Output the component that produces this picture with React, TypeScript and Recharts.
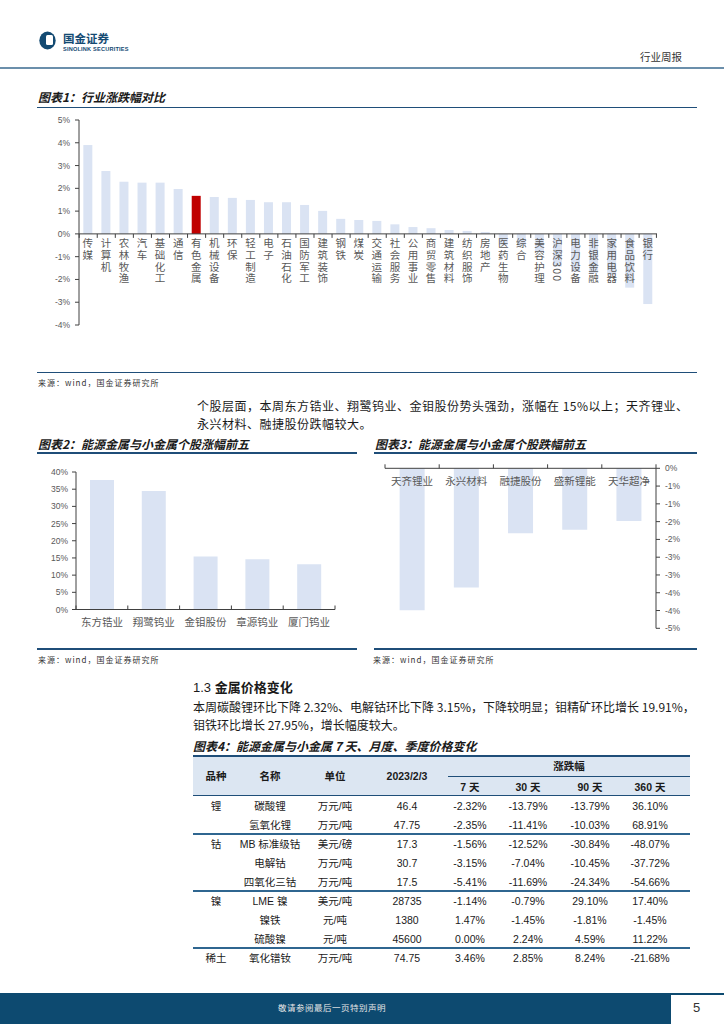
import React from 'react';
import { BarChart, Bar, XAxis, YAxis, ReferenceLine } from 'recharts';

// ---------- Data ----------
const industryNames = ['传媒', '计算机', '农林牧渔', '汽车', '基础化工', '通信', '有色金属', '机械设备', '环保', '轻工制造', '电子', '石油石化', '国防军工', '建筑装饰', '钢铁', '煤炭', '交通运输', '社会服务', '公用事业', '商贸零售', '建筑材料', '纺织服饰', '房地产', '医药生物', '综合', '美容护理', '沪深300', '电力设备', '非银金融', '家用电器', '食品饮料', '银行'];
const industryChanges = [3.9, 2.76, 2.29, 2.25, 2.25, 1.97, 1.67, 1.62, 1.58, 1.49, 1.39, 1.39, 1.27, 1.01, 0.66, 0.61, 0.57, 0.42, 0.3, 0.25, 0.17, 0.13, 0.08, -0.48, -0.52, -0.77, -1.43, -1.65, -1.72, -1.8, -2.36, -3.08];
const highlightIndustry = '有色金属';
const industryTicks = [-4, -3, -2, -1, 0, 1, 2, 3, 4, 5];

const gainerNames = ['东方锆业', '翔鹭钨业', '金钼股份', '章源钨业', '厦门钨业'];
const gainerChanges = [37.7, 34.5, 15.4, 14.6, 13.2];
const gainerTicks = [0, 5, 10, 15, 20, 25, 30, 35, 40];

const loserNames = ['天齐锂业', '永兴材料', '融捷股份', '盛新锂能', '天华超净'];
const loserChanges = [-3.99, -3.35, -1.83, -1.73, -1.48];
const loserTicks = [0, -0.5, -1, -1.5, -2, -2.5, -3, -3.5, -4, -4.5];

const tableGroups = ['锂', '', '钴', '', '', '镍', '', '', '稀土'];
const tableNames = ['碳酸锂', '氢氧化锂', 'MB 标准级钴', '电解钴', '四氧化三钴', 'LME 镍', '镍铁', '硫酸镍', '氧化镨钕'];
const tableUnits = ['万元/吨', '万元/吨', '美元/磅', '万元/吨', '万元/吨', '美元/吨', '元/吨', '元/吨', '万元/吨'];
const tablePrices = ['46.4', '47.75', '17.3', '30.7', '17.5', '28735', '1380', '45600', '74.75'];
const tableChg7 = ['-2.32%', '-2.35%', '-1.56%', '-3.15%', '-5.41%', '-1.14%', '1.47%', '0.00%', '3.46%'];
const tableChg30 = ['-13.79%', '-11.41%', '-12.52%', '-7.04%', '-11.69%', '-0.79%', '-1.45%', '2.24%', '2.85%'];
const tableChg90 = ['-13.79%', '-10.03%', '-30.84%', '-10.45%', '-24.34%', '29.10%', '-1.81%', '4.59%', '8.24%'];
const tableChg360 = ['36.10%', '68.91%', '-48.07%', '-37.72%', '-54.66%', '17.40%', '-1.45%', '11.22%', '-21.68%'];
const tableHeaders = ['品种', '名称', '单位', '2023/2/3'];
const tablePeriods = ['7 天', '30 天', '90 天', '360 天'];

// ---------- Styles ----------
const CJK = '"Noto Sans CJK SC", "Liberation Sans", sans-serif';
const NUM = '"Liberation Sans", "Noto Sans CJK SC", sans-serif';
const BAR = '#dae3f3';
const RED = '#c00000';
const AXIS = '#404040';
const LABEL = '#595959';
const NAVY = '#1f4e79';

const industryData = industryNames.map((name, i) => ({ name, value: industryChanges[i] }));
const gainerData = gainerNames.map((name, i) => ({ name, value: gainerChanges[i] }));
const loserData = loserNames.map((name, i) => ({ name, value: loserChanges[i] }));

const GAP1 = 0.24;

const IndustryShape = (props: any) => {
  const { x, y, width, height, index, payload } = props;
  const top = Math.min(y, y + height);
  const h = Math.abs(height);
  const v = payload.value;
  const zeroY = v >= 0 ? top + h : top;
  const band = width / (1 - 2 * GAP1);
  const left = x - GAP1 * band;
  const cx = x + width / 2;
  return (
    <g>
      <rect x={x} y={top} width={width} height={h} fill={payload.name === highlightIndustry ? RED : BAR} />
      <line x1={left} x2={left} y1={zeroY} y2={zeroY + 4} stroke={AXIS} />
      {index === industryNames.length - 1 && <line x1={left + band} x2={left + band} y1={zeroY} y2={zeroY + 4} stroke={AXIS} />}
      <text
        x={cx}
        y={zeroY + 4}
        fontSize={10.5}
        fill={LABEL}
        fontFamily={CJK}
        letterSpacing={1.2}
        style={{ writingMode: 'vertical-rl' as any }}
      >
        {payload.name}
      </text>
    </g>
  );
};

// Category tick: label at band centre, small tick marks at band edges (pointing up)
const makeCatTick = (plotWidth: number, count: number, labelDy: number) => (props: any) => {
  const { x, y, payload, index } = props;
  const half = plotWidth / count / 2;
  return (
    <g>
      <line x1={x - half} x2={x - half} y1={y} y2={y - 4} stroke={AXIS} />
      {index === count - 1 && <line x1={x + half} x2={x + half} y1={y} y2={y - 4} stroke={AXIS} />}
      <text x={x} y={y + labelDy} textAnchor="middle" fontSize={10.5} fill={LABEL} fontFamily={CJK}>
        {payload.value}
      </text>
    </g>
  );
};

const fmtLoser = (v: number) => (v === 0 ? '0%' : `-${Math.round(Math.abs(v))}%`);

function IndustryChart() {
  return (
    <BarChart width={724} height={225} data={industryData} margin={{ top: 10, right: 67, bottom: 10, left: 0 }} barCategoryGap="24%">
      <XAxis dataKey="name" type="category" hide height={0} />
      <YAxis
        domain={[-4, 5]}
        ticks={industryTicks}
        interval={0}
        width={79}
        tickFormatter={(v) => `${v}%`}
        tick={{ fontSize: 8.5, fill: LABEL, fontFamily: NUM }}
        axisLine={{ stroke: AXIS }}
        tickLine={{ stroke: AXIS }}
        tickSize={4}
        tickMargin={5}
      />
      <Bar dataKey="value" isAnimationActive={false} shape={IndustryShape} />
      <ReferenceLine y={0} stroke={AXIS} />
    </BarChart>
  );
}

const C2 = { w: 345, ml: 0, mr: 10, yw: 76 };
function GainerChart() {
  return (
    <BarChart width={C2.w} height={180} data={gainerData} margin={{ top: 12, right: C2.mr, bottom: 0, left: C2.ml }} barCategoryGap="27%">
      <XAxis
        dataKey="name"
        type="category"
        interval={0}
        height={30.5}
        tickSize={0}
        tickMargin={0}
        tickLine={false}
        axisLine={{ stroke: AXIS }}
        tick={makeCatTick(C2.w - C2.ml - C2.mr - C2.yw, gainerNames.length, 16)}
      />
      <YAxis
        domain={[0, 40]}
        ticks={gainerTicks}
        interval={0}
        width={C2.yw}
        tickFormatter={(v) => `${v}%`}
        tick={{ fontSize: 8.5, fill: LABEL, fontFamily: NUM }}
        axisLine={{ stroke: AXIS }}
        tickLine={{ stroke: AXIS }}
        tickSize={4}
        tickMargin={4}
      />
      <Bar dataKey="value" fill={BAR} isAnimationActive={false} />
    </BarChart>
  );
}

const C3 = { w: 340, ml: 23, mr: 0, yw: 46 };
function LoserChart() {
  return (
    <BarChart width={C3.w} height={185} data={loserData} margin={{ top: 3.3, right: C3.mr, bottom: 11.7, left: C3.ml }} barCategoryGap="27%">
      <XAxis
        dataKey="name"
        type="category"
        orientation="top"
        interval={0}
        height={10}
        tickSize={0}
        tickMargin={0}
        tickLine={false}
        axisLine={{ stroke: AXIS }}
        tick={makeCatTick(C3.w - C3.ml - C3.mr - C3.yw, loserNames.length, 17)}
      />
      <YAxis
        orientation="right"
        domain={[-4.5, 0]}
        ticks={loserTicks}
        interval={0}
        width={C3.yw}
        tickFormatter={fmtLoser}
        tick={{ fontSize: 8.5, fill: LABEL, fontFamily: NUM }}
        axisLine={{ stroke: AXIS }}
        tickLine={{ stroke: AXIS }}
        tickSize={4}
        tickMargin={5}
      />
      <Bar dataKey="value" fill={BAR} isAnimationActive={false} />
    </BarChart>
  );
}

// ---------- Page helpers ----------
const Txt = ({ x, y, size, children, style }: any) => (
  <div
    style={{
      position: 'absolute',
      left: x,
      top: y - (size * 1.2) / 2,
      height: size * 1.2,
      lineHeight: `${size * 1.2}px`,
      fontSize: size,
      whiteSpace: 'nowrap',
      fontFamily: CJK,
      color: '#1a1a1a',
      ...style,
    }}
  >
    {children}
  </div>
);

const HLine = ({ x1, x2, y, color, w }: any) => (
  <div style={{ position: 'absolute', left: x1, top: y - (w || 1) / 2, width: x2 - x1, height: w || 1, background: color || NAVY }} />
);

const Cell = ({ cx, y, children, bold, size }: any) => (
  <div
    style={{
      position: 'absolute',
      left: cx - 50,
      width: 100,
      top: y - 8,
      height: 16,
      lineHeight: '16px',
      textAlign: 'center',
      fontSize: size || 10.5,
      fontWeight: bold ? 700 : 400,
      fontFamily: NUM,
      color: '#1a1a1a',
      whiteSpace: 'nowrap',
    }}
  >
    {children}
  </div>
);

const titleStyle = { fontWeight: 700, fontStyle: 'italic' };
const srcStyle = { fontSize: 8, letterSpacing: 1, color: '#333' };

export default function App() {
  const colCenters = [216, 270, 335, 407];
  const periodCenters = [470, 528, 590, 650];
  const rowTop = 796;
  const rowH = 19;
  return (
    <div style={{ position: 'absolute', left: 0, top: 0, width: 724, height: 1024, background: '#fff', overflow: 'hidden', fontFamily: CJK }}>
      {/* Header */}
      <svg style={{ position: 'absolute', left: 39, top: 31 }} width={18} height={19}>
        <ellipse cx={8.5} cy={9.5} rx={8.2} ry={9} fill="#134a72" />
        <rect x={7} y={4} width={7} height={10} rx={1.5} fill="#fff" />
      </svg>
      <Txt x={63} y={38.5} size={11.5} style={{ fontWeight: 700, color: '#134a72' }}>国金证券</Txt>
      <Txt x={63} y={49.5} size={5.6} style={{ fontWeight: 700, color: '#134a72', fontFamily: NUM, letterSpacing: 0.2 }}>SINOLINK SECURITIES</Txt>
      <Txt x={640} y={57} size={10.5} style={{ color: '#333' }}>行业周报</Txt>
      <HLine x1={0} x2={724} y={67.5} w={2} color="#6b8fab" />

      {/* Chart 1 */}
      <Txt x={38} y={97} size={12} style={titleStyle}>图表1：行业涨跌幅对比</Txt>
      <HLine x1={37} x2={697} y={107.5} w={1.5} color={NAVY} />
      <div style={{ position: 'absolute', left: 0, top: 110 }}>
        <IndustryChart />
      </div>
      <HLine x1={37} x2={697} y={372.5} w={1.5} color={NAVY} />
      <Txt x={38} y={383} size={8} style={srcStyle}>来源：wind，国金证券研究所</Txt>

      <Txt x={197} y={406.5} size={12} style={{ letterSpacing: 0.5 }}>个股层面，本周东方锆业、翔鹭钨业、金钼股份势头强劲，涨幅在 15%以上；天齐锂业、</Txt>
      <Txt x={197} y={424} size={12} style={{ letterSpacing: 0.5 }}>永兴材料、融捷股份跌幅较大。</Txt>

      {/* Charts 2 & 3 */}
      <Txt x={38} y={444} size={12} style={titleStyle}>图表2：能源金属与小金属个股涨幅前五</Txt>
      <Txt x={375} y={444} size={12} style={titleStyle}>图表3：能源金属与小金属个股跌幅前五</Txt>
      <HLine x1={37} x2={357} y={453} w={1.5} color={NAVY} />
      <HLine x1={374} x2={697} y={453} w={1.5} color={NAVY} />
      <div style={{ position: 'absolute', left: 0, top: 460 }}>
        <GainerChart />
      </div>
      <div style={{ position: 'absolute', left: 362, top: 455 }}>
        <LoserChart />
      </div>
      <HLine x1={37} x2={357} y={649} w={1.5} color={NAVY} />
      <HLine x1={374} x2={697} y={649} w={1.5} color={NAVY} />
      <Txt x={38} y={660} size={8} style={srcStyle}>来源：wind，国金证券研究所</Txt>
      <Txt x={373} y={660} size={8} style={srcStyle}>来源：wind，国金证券研究所</Txt>

      {/* Section 1.3 */}
      <Txt x={193} y={687} size={13} style={{ fontWeight: 700 }}>
        <span style={{ fontFamily: NUM, fontWeight: 400 }}>1.3 </span>金属价格变化
      </Txt>
      <Txt x={193} y={707.5} size={12} style={{ letterSpacing: 0 }}>本周碳酸锂环比下降 2.32%、电解钴环比下降 3.15%，下降较明显；钼精矿环比增长 19.91%，</Txt>
      <Txt x={193} y={725} size={12} style={{ letterSpacing: 0 }}>钼铁环比增长 27.95%，增长幅度较大。</Txt>

      {/* Table */}
      <Txt x={193} y={746} size={12} style={titleStyle}>图表4：能源金属与小金属 7 天、月度、季度价格变化</Txt>
      <div style={{ position: 'absolute', left: 193, top: 756, width: 497, height: 39, background: '#dce6f2' }} />
      <HLine x1={193} x2={690} y={756} w={1.5} color={NAVY} />
      <HLine x1={448} x2={690} y={776.5} w={1.5} color={NAVY} />
      <HLine x1={193} x2={690} y={795.5} w={1.5} color={NAVY} />
      {tableHeaders.map((h, i) => (
        <Cell key={h} cx={colCenters[i]} y={776} bold>{h}</Cell>
      ))}
      <Cell cx={569} y={766} bold>涨跌幅</Cell>
      {tablePeriods.map((p, i) => (
        <Cell key={p} cx={periodCenters[i]} y={786.5} bold>{p}</Cell>
      ))}
      {tableNames.map((name, r) => {
        const y = rowTop + rowH * r + rowH / 2;
        return (
          <React.Fragment key={name}>
            <Cell cx={colCenters[0]} y={y}>{tableGroups[r]}</Cell>
            <Cell cx={colCenters[1]} y={y}>{name}</Cell>
            <Cell cx={colCenters[2]} y={y}>{tableUnits[r]}</Cell>
            <Cell cx={colCenters[3]} y={y}>{tablePrices[r]}</Cell>
            <Cell cx={periodCenters[0]} y={y}>{tableChg7[r]}</Cell>
            <Cell cx={periodCenters[1]} y={y}>{tableChg30[r]}</Cell>
            <Cell cx={periodCenters[2]} y={y}>{tableChg90[r]}</Cell>
            <Cell cx={periodCenters[3]} y={y}>{tableChg360[r]}</Cell>
          </React.Fragment>
        );
      })}
      {[2, 5, 8].map((r) => (
        <HLine key={r} x1={193} x2={690} y={rowTop + rowH * r} w={1.5} color="#2f6690" />
      ))}

      {/* Footer */}
      <div style={{ position: 'absolute', left: 0, top: 993, width: 671, height: 31, background: '#0d4a70' }} />
      <div style={{ position: 'absolute', left: 671, top: 993, width: 53, height: 2, background: '#0d4a70' }} />
      <Txt x={278} y={1007} size={8.5} style={{ color: '#e6e6e6', letterSpacing: 0.5 }}>敬请参阅最后一页特别声明</Txt>
      <Txt x={693} y={1008} size={13} style={{ color: '#333', fontFamily: NUM }}>5</Txt>
    </div>
  );
}
